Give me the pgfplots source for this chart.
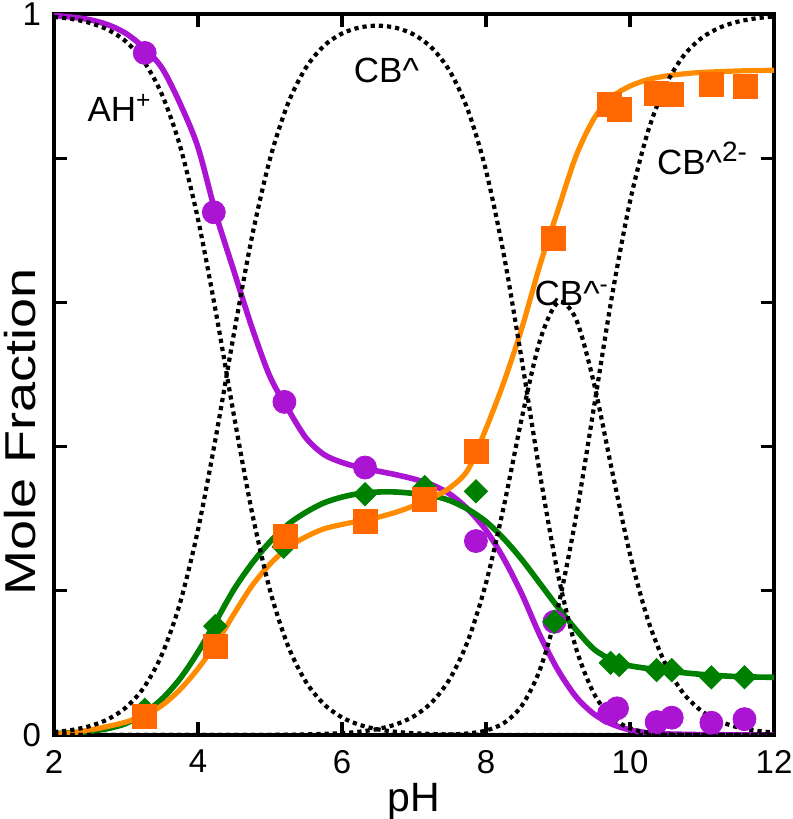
\documentclass[border=0pt]{standalone}
\usepackage{pgfplots}
\pgfplotsset{compat=1.18}
\usepackage{fontspec}
\setmainfont{Liberation Sans}
\definecolor{cpur}{RGB}{170,20,210}
\definecolor{cgrn}{RGB}{0,128,0}
\definecolor{corL}{RGB}{255,140,0}
\definecolor{corM}{RGB}{255,104,0}
\begin{document}
\begin{tikzpicture}
\begin{axis}[
  scale only axis, width=360bp, height=360.5bp,
  xmin=2, xmax=12, ymin=0, ymax=1,
  xtick={2,4,6,8,10,12},
  ytick={0,0.2,0.4,0.6,0.8,1}, yticklabels={0,,,,,1},
  tick align=inside, major tick length=6.5bp,
  axis line style={line width=1.6bp},
  every tick/.style={black, line width=1.6bp},
  /pgf/number format/assume math mode=true,
  tick label style={font=\fontsize{16.5bp}{18bp}\selectfont},
  xticklabel style={yshift=-4bp},
  yticklabel style={xshift=-3bp},
  xlabel={pH}, ylabel={Mole Fraction},
  xlabel style={font=\fontsize{20.5bp}{22bp}\selectfont, at={(axis description cs:0.5,-0.106)}, anchor=base},
  ylabel style={font=\fontsize{27bp}{29bp}\selectfont, at={(axis description cs:-0.047,0.42)}, anchor=center, yscale=0.8},
]
% ---- fitted solid curves
\addplot[cpur, line width=2.8bp, smooth] coordinates {
(2,0.998) (2.25,0.9956) (2.5,0.992) (2.75,0.985) (3,0.973) (3.25,0.953) (3.5,0.925)
(3.75,0.876) (4,0.815) (4.25,0.722) (4.5,0.643) (4.75,0.565) (5,0.497) (5.25,0.452)
(5.5,0.412) (5.75,0.389) (6,0.378) (6.25,0.371) (6.5,0.366) (6.75,0.361) (7,0.355)
(7.25,0.347) (7.5,0.334) (7.75,0.313) (8,0.284) (8.25,0.244) (8.5,0.195) (8.75,0.138)
(9,0.090) (9.25,0.053) (9.5,0.029) (9.75,0.015) (10,0.007) (10.25,0.003) (10.5,0.0015)
(11,0.0005) (11.5,0.0002) (12,0)};
\addplot[cgrn, line width=2.8bp, smooth] coordinates {
(2,0.002) (2.25,0.003) (2.5,0.005) (2.75,0.009) (3,0.016) (3.25,0.030) (3.5,0.050)
(3.75,0.078) (4,0.115) (4.25,0.158) (4.5,0.202) (4.75,0.238) (5,0.268) (5.25,0.292)
(5.5,0.309) (5.75,0.322) (6,0.330) (6.25,0.335) (6.5,0.337) (6.75,0.337) (7,0.335)
(7.25,0.332) (7.5,0.325) (7.75,0.313) (8,0.296) (8.25,0.272) (8.5,0.243) (8.75,0.210)
(9,0.177) (9.25,0.146) (9.5,0.119) (9.75,0.104) (10,0.096) (10.5,0.089) (11,0.084)
(11.5,0.081) (12,0.080)};
\addplot[corL, line width=2.6bp, smooth] coordinates {
(2,0.001) (2.25,0.003) (2.5,0.007) (2.75,0.012) (3,0.018) (3.25,0.027) (3.5,0.041)
(3.75,0.063) (4,0.092) (4.25,0.127) (4.5,0.168) (4.75,0.207) (5,0.237) (5.25,0.260)
(5.5,0.275) (5.75,0.286) (6,0.292) (6.25,0.297) (6.5,0.302) (6.75,0.309) (7,0.318)
(7.25,0.329) (7.5,0.343) (7.75,0.368) (8,0.425) (8.25,0.490) (8.5,0.565) (8.75,0.652)
(9,0.728) (9.25,0.803) (9.5,0.855) (9.75,0.885) (10,0.900) (10.25,0.909) (10.5,0.914)
(10.75,0.917) (11,0.919) (11.5,0.921) (12,0.922)};
% ---- species distribution (dotted)
\addplot[black, line width=2.1bp, dash pattern=on 2.1bp off 2bp, smooth] coordinates {
(2,0.996) (2.25,0.993) (2.5,0.9876) (2.75,0.9781) (3,0.9617) (3.25,0.9339) (3.5,0.8882)
(3.75,0.8171) (4,0.7153) (4.25,0.5855) (4.5,0.4427) (4.75,0.3088) (5,0.2007) (5.25,0.1237)
(5.5,0.0735) (5.75,0.0427) (6,0.0244) (6.25,0.0139) (6.5,0.0078) (6.75,0.0044) (7,0.0024)
(7.25,0.0014) (7.5,0.0007) (7.75,0.0004) (8,0.0002) (8.5,0) (9,0) (10,0) (11,0) (12,0)};
\addplot[black, line width=2.1bp, dash pattern=on 2.1bp off 2bp, smooth] coordinates {
(2,0.0040) (2.25,0.0070) (2.5,0.0124) (2.75,0.0219) (3,0.0383) (3.25,0.0661) (3.5,0.1118)
(3.75,0.1829) (4,0.2847) (4.25,0.4145) (4.5,0.5573) (4.75,0.6912) (5,0.7991) (5.25,0.8759)
(5.5,0.9257) (5.75,0.9559) (6,0.9729) (6.25,0.9814) (6.5,0.9838) (6.75,0.9808) (7,0.9713)
(7.25,0.9528) (7.5,0.9202) (7.75,0.8663) (8,0.7829) (8.25,0.6649) (8.5,0.5180) (8.75,0.3617)
(9,0.2229) (9.25,0.1205) (9.5,0.0573) (9.75,0.0242) (10,0.0093) (10.25,0.0033) (10.5,0.0011)
(10.75,0.0004) (11,0.0001) (11.5,0) (12,0)};
\addplot[black, line width=2.1bp, dash pattern=on 2.1bp off 2bp, smooth] coordinates {
(2,0) (3,0) (4,0) (5,0.0002) (5.5,0.0008) (6,0.0026) (6.25,0.0047) (6.5,0.0084) (6.75,0.0148)
(7,0.0261) (7.25,0.0456) (7.5,0.0783) (7.75,0.1311) (8,0.2107) (8.25,0.3183) (8.5,0.4409)
(8.75,0.5474) (9,0.6000) (9.25,0.5768) (9.5,0.4876) (9.75,0.3669) (10,0.2507) (10.25,0.1595)
(10.5,0.0967) (10.75,0.0568) (11,0.0328) (11.25,0.0187) (11.5,0.0106) (11.75,0.0060) (12,0.0034)};
\addplot[black, line width=2.1bp, dash pattern=on 2.1bp off 2bp, smooth] coordinates {
(2,0) (4,0) (6,0) (6.5,0) (7,0.0001) (7.25,0.0002) (7.5,0.0007) (7.75,0.0022) (8,0.0062)
(8.25,0.0167) (8.5,0.0411) (8.75,0.0909) (9,0.1771) (9.25,0.3027) (9.5,0.4551) (9.75,0.6089)
(10,0.7400) (10.25,0.8372) (10.5,0.9022) (10.75,0.9428) (11,0.9671) (11.25,0.9813)
(11.5,0.9894) (11.75,0.9940) (12,0.9966)};
% ---- measured points
\addplot[only marks, mark=*, mark size=5.75bp, cpur, mark options={fill=cpur, draw=cpur}] coordinates {
(3.26,0.946) (4.22,0.725) (5.20,0.462) (6.32,0.371) (7.86,0.269) (8.95,0.157)
(9.71,0.030) (9.82,0.037) (10.37,0.018) (10.58,0.024) (11.13,0.017) (11.59,0.022)};
\addplot[only marks, mark=square*, mark size=4.1bp, cgrn, mark options={rotate=45, fill=cgrn, draw=cgrn}] coordinates {
(3.26,0.035) (4.24,0.151) (5.19,0.261) (6.32,0.334) (7.15,0.344) (7.86,0.338) (8.95,0.157)
(9.73,0.100) (9.85,0.097) (10.37,0.090) (10.58,0.090) (11.13,0.080) (11.59,0.080)};
\addplot[only marks, mark=square*, mark size=6bp, corM, mark options={fill=corM, draw=corM}] coordinates {
(3.26,0.026) (4.24,0.123) (5.22,0.275) (6.32,0.296) (7.14,0.327) (7.86,0.393) (8.94,0.689)
(9.72,0.874) (9.85,0.867) (10.37,0.890) (10.58,0.888) (11.13,0.903) (11.6,0.899)};
% ---- labels
\node[anchor=west, inner sep=0pt, font=\fontsize{17.5bp}{19bp}\selectfont] at (axis cs:2.46,0.87) {AH\textsuperscript{+}};
\node[anchor=west, inner sep=0pt, font=\fontsize{17.5bp}{19bp}\selectfont] at (axis cs:6.16,0.922) {CB\textasciicircum};
\node[anchor=west, inner sep=0pt, font=\fontsize{17.5bp}{19bp}\selectfont] at (axis cs:8.67,0.613) {CB\textasciicircum\textsuperscript{-}};
\node[anchor=west, inner sep=0pt, font=\fontsize{17.5bp}{19bp}\selectfont] at (axis cs:10.37,0.80) {CB\textasciicircum{\fontsize{14bp}{16bp}\selectfont\raisebox{0.45em}{2-}}};
\end{axis}
\pgfresetboundingbox
\path (-27bp,-42bp) rectangle (369.5bp,367.5bp);
\end{tikzpicture}
\end{document}
